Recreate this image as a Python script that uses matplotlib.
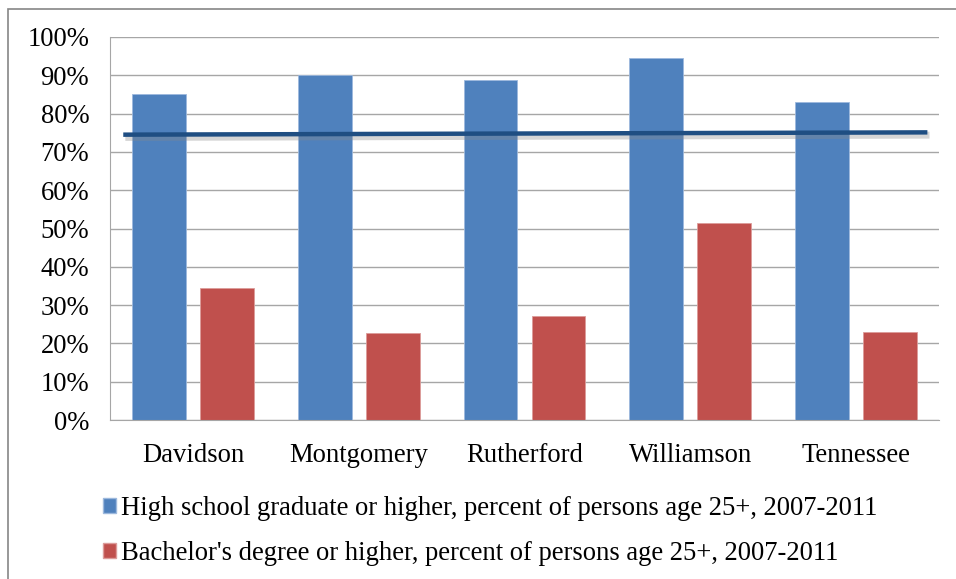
import matplotlib.pyplot as plt
import matplotlib.patheffects as pe
from matplotlib.patches import Rectangle, Patch
import numpy as np

plt.rcParams['font.family'] = ['Liberation Serif', 'DejaVu Serif']

categories = ['Davidson', 'Montgomery', 'Rutherford', 'Williamson', 'Tennessee']
high_school = [85.0, 90.1, 88.8, 94.5, 83.0]
bachelor = [34.5, 22.7, 27.2, 51.4, 23.0]
trend_x = [-0.42, 4.43]
trend_y = [74.5, 75.1]
yticks = [0, 10, 20, 30, 40, 50, 60, 70, 80, 90, 100]
labels = ['High school graduate or higher, percent of persons age 25+, 2007-2011',
          "Bachelor's degree or higher, percent of persons age 25+, 2007-2011"]

blue = '#4F81BD'
red = '#C0504D'
fs = 19.2

W, H = 956, 579
fig = plt.figure(figsize=(W / 100, H / 100), dpi=100)
# plot area in pixels: left 110, right 939, top 37, bottom 420
ax = fig.add_axes([110 / W, 1 - 420 / H, 829 / W, 383 / H])

x = np.arange(len(categories))
bw = 0.325
off = 0.205
ax.bar(x - off, high_school, bw, color=blue, edgecolor='#9DB9DD', linewidth=0.6, zorder=2)
ax.bar(x + off, bachelor, bw, color=red, edgecolor='#DC9C9A', linewidth=0.6, zorder=2)

# trend line with a soft shadow
ax.plot(trend_x, trend_y, color='#1F4E82', linewidth=3.2, solid_capstyle='butt', zorder=4,
        path_effects=[pe.SimpleLineShadow(offset=(1.5, -2), shadow_color='#888888', alpha=0.35, linewidth=5),
                      pe.Normal()])

ax.set_xlim(-0.5, len(categories) - 0.5)
ax.set_ylim(0, 100)
ax.set_yticks(yticks)
ax.set_yticklabels([f'{v}%' for v in yticks], fontsize=fs)
ax.set_xticks(x)
ax.set_xticklabels(categories, fontsize=fs)
ax.tick_params(axis='both', length=0)
ax.tick_params(axis='y', pad=15)
ax.tick_params(axis='x', pad=16.5)
ax.yaxis.grid(True, color='#A6A6A6', linewidth=1.0, zorder=0)
ax.set_axisbelow(True)
for s in ['top', 'right']:
    ax.spines[s].set_visible(False)
ax.spines['left'].set_color('#A6A6A6')
ax.spines['bottom'].set_color('#A6A6A6')

handles = [Patch(facecolor=blue, edgecolor='#9DB9DD'), Patch(facecolor=red, edgecolor='#DC9C9A')]
fig.legend(handles, labels, loc='upper left', bbox_to_anchor=(103 / W, 1 - 496 / H),
           frameon=False, fontsize=fs, handlelength=0.48, handleheight=0.48,
           handletextpad=0.2, labelspacing=0.75, borderaxespad=0, borderpad=0)

# outer chart border
fig.patches.append(Rectangle((8 / W, -0.1), 1.2, 1 - 9 / H + 0.1, transform=fig.transFigure,
                             fill=False, edgecolor='#868686', linewidth=1.2))

fig.savefig('out.png', dpi=100)
